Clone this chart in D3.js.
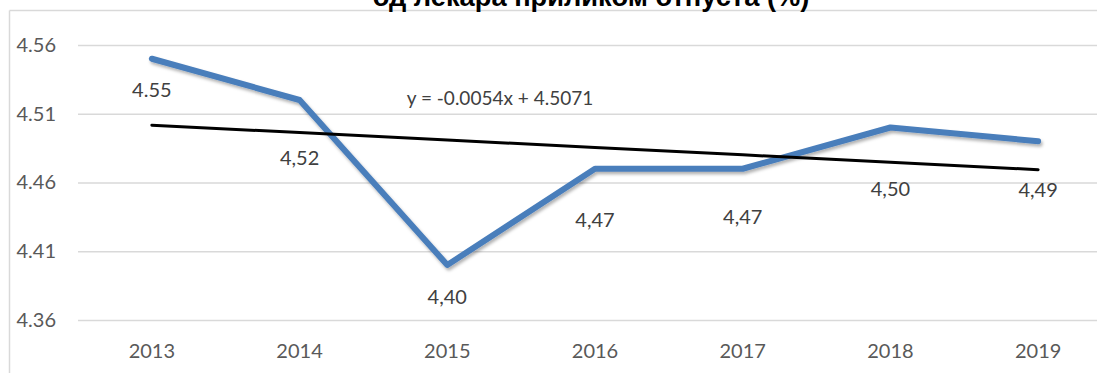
<!DOCTYPE html>
<html>
<head>
<meta charset="utf-8">
<script src="https://cdn.jsdelivr.net/npm/d3@7"></script>
<style>
  html, body { margin: 0; padding: 0; background: #fff; overflow: hidden; }
  svg { display: block; }
</style>
</head>
<body>
<svg id="chart" width="1097" height="373"></svg>
<script>
// Data
const years = ["2013", "2014", "2015", "2016", "2017", "2018", "2019"];
const values = [4.55, 4.52, 4.40, 4.47, 4.47, 4.50, 4.49];
const valueLabels = ["4.55", "4,52", "4,40", "4,47", "4,47", "4,50", "4,49"];
const yTicks = [4.36, 4.41, 4.46, 4.51, 4.56];
const trendSlope = -0.0054;
const trendIntercept = 4.5071;
const trendLabel = "y = -0.0054x + 4.5071";
const titleText = "од лекара приликом отпуста (%)";

// Vertical offset of each data label below its point
const labelDy = [38, 65, 39, 58, 55, 68, 56];

const svg = d3.select("#chart");
const W = 1097, H = 373;
const fontFamily = "Lato, 'Open Sans', sans-serif";

const x = d3.scaleBand().domain(years).range([78, 1112]).padding(0);
const y = d3.scaleLinear().domain([4.36, 4.56]).range([320, 45]);
const cx = d => x(d) + x.bandwidth() / 2;

// Outer frame edges
svg.append("line").attr("x1", 9.5).attr("x2", W).attr("y1", 10.5).attr("y2", 10.5)
  .attr("stroke", "#d9d9d9").attr("stroke-width", 1.5);
svg.append("line").attr("x1", 9.5).attr("x2", 9.5).attr("y1", 10.5).attr("y2", H)
  .attr("stroke", "#d9d9d9").attr("stroke-width", 1.5);

// Title
const title = svg.append("text")
  .attr("x", 591).attr("y", 6)
  .attr("text-anchor", "middle")
  .attr("font-family", "'Liberation Sans', Arial, sans-serif")
  .attr("font-weight", "bold")
  .attr("font-size", 20)
  .attr("fill", "#000")
  .text(titleText);
const tw = title.node().getComputedTextLength();
title.attr("font-size", 20 * 437 / tw);

// Gridlines
const grid = svg.append("g").attr("transform", "translate(78,0)")
  .call(d3.axisLeft(y).tickValues(yTicks).tickSize(-(W - 78)).tickFormat(""));
grid.select(".domain").remove();
grid.selectAll(".tick line").attr("stroke", "#d9d9d9").attr("stroke-width", 1.3);

// Y tick labels
const yAxis = svg.append("g").attr("transform", "translate(56,0)")
  .call(d3.axisLeft(y).tickValues(yTicks).tickSize(0).tickPadding(0).tickFormat(d3.format(".2f")));
yAxis.select(".domain").remove();
yAxis.selectAll("text")
  .attr("font-family", fontFamily).attr("font-size", 20).attr("fill", "#595959");

// X tick labels
const xAxis = svg.append("g").attr("transform", "translate(0,344)")
  .call(d3.axisBottom(x).tickSize(0).tickPadding(0));
xAxis.select(".domain").remove();
xAxis.selectAll("text")
  .attr("font-family", fontFamily).attr("font-size", 20).attr("fill", "#595959");

// Drop shadow for the series line
const defs = svg.append("defs");
defs.append("filter").attr("id", "shadow")
  .attr("x", "-5%").attr("y", "-20%").attr("width", "110%").attr("height", "140%")
  .append("feDropShadow")
  .attr("dx", 1.5).attr("dy", 2.5).attr("stdDeviation", 1.5)
  .attr("flood-color", "#000").attr("flood-opacity", 0.3);

// Series line
const line = d3.line().x((d, i) => cx(years[i])).y(d => y(d));
svg.append("path")
  .datum(values)
  .attr("d", line)
  .attr("fill", "none")
  .attr("stroke", "#4a7ebb")
  .attr("stroke-width", 6)
  .attr("stroke-linejoin", "round")
  .attr("stroke-linecap", "round")
  .attr("filter", "url(#shadow)");

// Linear trend line
const trend = years.map((yr, i) => trendIntercept + trendSlope * (i + 1));
svg.append("path")
  .datum(trend)
  .attr("d", line)
  .attr("fill", "none")
  .attr("stroke", "#000")
  .attr("stroke-width", 3)
  .attr("stroke-linecap", "round");

// Trend equation
svg.append("text")
  .attr("x", 500).attr("y", 105)
  .attr("text-anchor", "middle")
  .attr("font-family", fontFamily).attr("font-size", 19).attr("fill", "#404040")
  .text(trendLabel);

// Data labels
svg.append("g").selectAll("text")
  .data(values)
  .join("text")
  .attr("x", (d, i) => cx(years[i]))
  .attr("y", (d, i) => y(d) + labelDy[i])
  .attr("text-anchor", "middle")
  .attr("font-family", fontFamily).attr("font-size", 20).attr("fill", "#404040")
  .text((d, i) => valueLabels[i]);
</script>
</body>
</html>
